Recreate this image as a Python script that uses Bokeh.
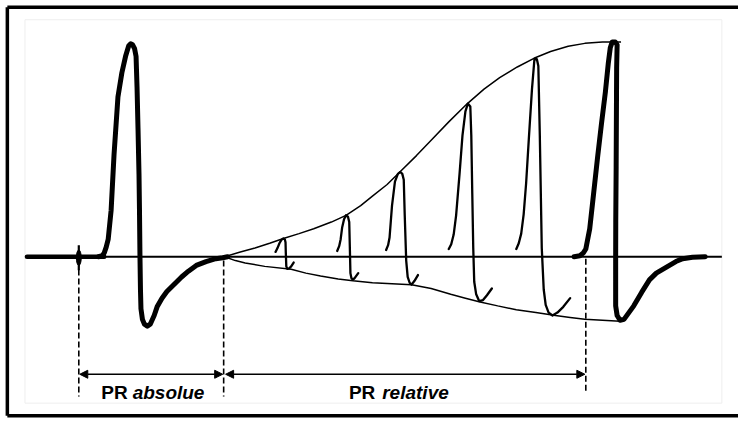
from bokeh.plotting import figure
from bokeh.models import Range1d, Arrow, NormalHead
from bokeh.core.properties import value
from bokeh.embed import file_html
from bokeh.resources import INLINE

# ---- data (diagram coordinates: x to the right, y downward) ----
baseline_y = 266
baseline_thick_x = [27, 106]
baseline_thin_x = [106, 737]

stim_x = 80
stim_y = [254, 280]

ap1_x = [100, 104, 106, 108, 110, 113, 116, 120, 124, 128, 131, 133, 135, 137, 138.5,
         139.5, 140.5, 141.5, 142, 142.5, 143, 143.5, 145, 147, 150, 153, 157, 160,
         165, 170, 177, 185, 192, 200, 210, 220, 227, 232]
ap1_y = [266, 265, 262, 256, 248, 218, 160, 100, 75, 57, 47, 45, 46, 50, 58,
         90, 133, 180, 218, 266, 300, 320, 331, 336, 338, 336, 327, 318,
         309, 302, 295, 287, 281, 275, 271, 268, 267, 266]

ap_last_x = [586, 592, 595.5, 598, 602, 606, 610, 614, 618, 621, 623, 625, 628, 630,
             629.5, 629, 628.6, 628.5, 628.5, 630, 633, 637, 642, 647, 655, 663,
             670, 680, 690, 697, 707, 720]
ap_last_y = [266, 265, 262, 258, 237, 200, 163, 128, 95, 65, 49, 43, 43, 46,
             70, 173, 230, 266, 317, 327, 332, 331, 324, 317, 303, 290,
             283, 277, 271, 268, 266.5, 266]

s1_x = [281, 283, 285, 287, 289, 290.5, 291.2, 291.5, 292, 293, 295, 297, 299.5]
s1_y = [261, 257, 252, 248.5, 247, 248, 251, 262, 276, 278.5, 278, 276, 272]

s2_x = [344, 346, 347.5, 349, 351, 353, 355, 356.3, 357, 357.5, 358.5, 360, 362, 365.5]
s2_y = [260, 255, 248, 236, 227, 223, 224.5, 230, 260, 283, 288, 290, 288, 283]

s3_x = [394, 396, 397.5, 400, 403, 406, 408.5, 410.5, 412, 413, 414.5, 416, 418, 420, 423, 426.5]
s3_y = [259, 254, 246, 213, 188, 180, 178, 180, 186, 223, 270, 287, 293, 295, 291, 285]

s4_x = [458, 460.5, 463, 465.5, 469, 472, 475, 477.5, 480, 481, 482, 483, 484, 486, 489, 493, 497, 502]
s4_y = [258, 253, 243, 223, 180, 140, 115, 107, 110, 140, 200, 257, 292, 305, 312, 311, 306, 299]

s5_x = [527, 529.5, 532, 534.5, 537, 540, 543, 545.5, 548, 549.5, 551, 553, 555, 557, 560, 564, 569, 575, 582]
s5_y = [258, 252, 242, 222, 190, 140, 92, 61, 61, 68, 140, 257, 300, 316, 324, 327, 324, 318, 309]

upper_x = [229, 245, 260, 275, 289, 305, 320, 338, 353, 368, 380, 395, 408, 425, 440,
           458, 477, 494, 510, 528, 545, 562, 580, 597, 615, 634]
upper_y = [266, 261, 257, 252, 247, 242, 237, 230, 223, 213, 203, 191, 178, 161, 145,
           126, 107, 92, 80, 69, 60, 53, 47.5, 44.5, 43.2, 43]

lower_x = [229, 240, 250, 270, 297, 312, 327, 345, 360, 380, 400, 420, 440, 460, 475,
           490, 508, 527, 547, 567, 582, 597, 615, 633]
lower_y = [266, 270, 272.5, 276, 279, 283, 286, 289, 291, 293, 294, 295, 299, 305, 309,
           313, 317, 321, 324, 327, 329, 331, 332, 333]

dash_x = [80, 228, 598]
dash_top = [270, 270, 268]
dash_bottom = [411, 411, 408]

arrow_y = 388
absolue_span = [80, 228]
relative_span = [229, 598]

label_pr = ["PR", "PR"]
label_pr_x = [103, 356]
label_word = ["absolue", "relative"]
label_word_x = [135, 390]
label_y = 407

frame_left = 7
frame_top = 7
frame_bottom = 431
frame_right = 754

# ---- figure ----
p = figure(width=738, height=420, output_backend="svg", toolbar_location=None,
           x_range=Range1d(0, 754), y_range=Range1d(436, 0),
           x_axis_type=None, y_axis_type=None, min_border=0)
p.grid.visible = False
p.outline_line_color = None
p.background_fill_color = "white"
p.border_fill_color = "white"

# faint scan frame
p.line([25, 737, 737, 25, 25], [20, 20, 418, 418, 20], line_color="#eeeeee", line_width=1)

# outer black frame (left, top, bottom)
p.line([frame_left, frame_left], [frame_top, frame_bottom], line_color="black", line_width=3.5)
p.line([frame_left, frame_right], [frame_top, frame_top], line_color="black", line_width=3.5)
p.line([frame_left, frame_right], [frame_bottom, frame_bottom], line_color="black", line_width=3.5)

# baseline
p.line(baseline_thin_x, [baseline_y, baseline_y], line_color="black", line_width=1.8)
p.line(baseline_thick_x, [baseline_y, baseline_y], line_color="black", line_width=4.5, line_cap="round")

# stimulus artifact
p.line([stim_x, stim_x], stim_y, line_color="black", line_width=2.2)
p.ellipse(x=[stim_x], y=[baseline_y + 1], width=5, height=16, fill_color="black", line_color="black")

# envelopes
p.line(upper_x, upper_y, line_color="black", line_width=1.5)
p.line(lower_x, lower_y, line_color="black", line_width=1.5)

# small responses
for sx, sy in [(s1_x, s1_y), (s2_x, s2_y), (s3_x, s3_y), (s4_x, s4_y), (s5_x, s5_y)]:
    p.line(sx, sy, line_color="black", line_width=2.3, line_join="round", line_cap="round")

# full action potentials
p.line(ap1_x, ap1_y, line_color="black", line_width=5, line_join="round", line_cap="round")
p.line(ap_last_x, ap_last_y, line_color="black", line_width=5, line_join="round", line_cap="round")

# dashed verticals
p.segment(x0=dash_x, y0=dash_top, x1=dash_x, y1=dash_bottom, line_color="black",
          line_width=1.6, line_dash="6 3")

# arrows
for a, b in [absolue_span, relative_span]:
    p.add_layout(Arrow(start=NormalHead(size=8, fill_color="black", line_color="black", line_width=1),
                       end=NormalHead(size=8, fill_color="black", line_color="black", line_width=1),
                       x_start=a + 1, y_start=arrow_y, x_end=b - 1, y_end=arrow_y,
                       line_color="black", line_width=1.6))

# labels
p.text(x=label_pr_x, y=[label_y] * 2, text=label_pr, text_font=value("Liberation Sans"),
       text_font_style="bold", text_font_size="19px", text_baseline="alphabetic",
       text_align="left", text_color="black")
p.text(x=label_word_x, y=[label_y] * 2, text=label_word, text_font=value("Liberation Sans"),
       text_font_style="bold italic", text_font_size="19px", text_baseline="alphabetic",
       text_align="left", text_color="black")

open("out.html", "w").write(file_html(p, INLINE))
